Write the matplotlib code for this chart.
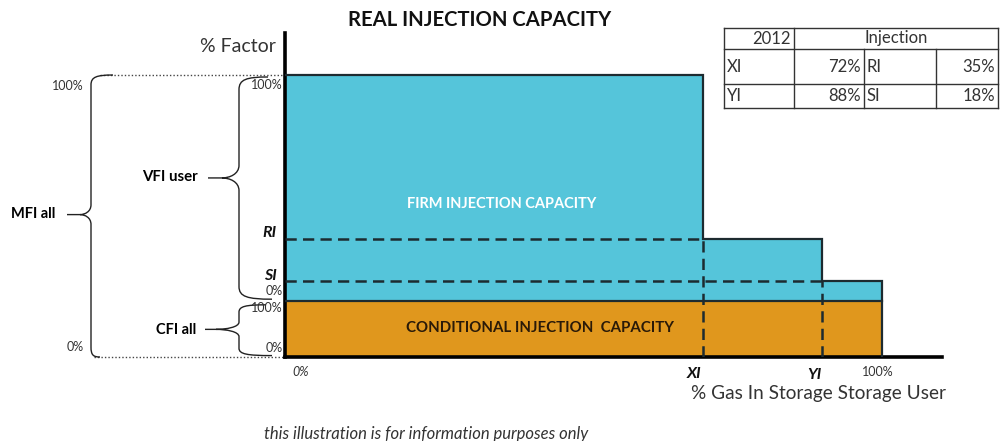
import numpy as np
import matplotlib
matplotlib.use("Agg")
from matplotlib import pyplot as plt
from matplotlib import transforms
from matplotlib.path import Path
from matplotlib.patches import PathPatch

plt.rcParams['font.family'] = ['Lato', 'DejaVu Sans']

# ---- data ----
gas_edges = [0, 70, 90, 100]        # % gas in storage: 0, XI, YI, 100%
firm_top = [100, 42, 27]            # top of firm capacity on each step (100%, RI, SI)
cfi_top = 20                        # conditional capacity band 0..20
xi, yi = gas_edges[1], gas_edges[2]
ri, si = firm_top[1], firm_top[2]

table_year = "2012"
table_head = "Injection"
table_rows = [["XI", "72%", "RI", "35%"],
              ["YI", "88%", "SI", "18%"]]

blue = '#55c5da'
orange = '#e0971d'
edge = '#1d2b30'

W, H = 1003, 441
fig = plt.figure(figsize=(W / 100, H / 100), dpi=100)
# pixel coords of the picture (y down) -> figure
pix = transforms.Affine2D().scale(1 / W, -1 / H).translate(0, 1) + fig.transFigure

ax = fig.add_axes([285 / W, (H - 357) / H, (942 - 285) / W, (357 - 33) / H])
ax.set_xlim(0, 110.05)
ax.set_ylim(0, 114.9)
for s in ['top', 'right']:
    ax.spines[s].set_visible(False)
for s in ['left', 'bottom']:
    ax.spines[s].set_linewidth(2.6)
    ax.spines[s].set_color('black')
ax.set_xticks([])
ax.set_yticks([])

# bars
widths = np.diff(gas_edges)
ax.bar(gas_edges[:-1], np.array(firm_top) - cfi_top, bottom=cfi_top, width=widths,
       align='edge', color=blue, linewidth=0, zorder=1)
ax.bar(0, cfi_top, width=gas_edges[-1], align='edge', color=orange, linewidth=0, zorder=1)

# outline of the stepped shape
ox = [0, xi, xi, yi, yi, gas_edges[-1], gas_edges[-1]]
oy = [firm_top[0], firm_top[0], ri, ri, si, si, 0]
ax.plot(ox, oy, color=edge, lw=1.6, zorder=3, solid_joinstyle='miter')
ax.plot([0, gas_edges[-1]], [cfi_top, cfi_top], color=edge, lw=1.6, zorder=3)

dash = (0, (4.5, 2.5))
ax.hlines(ri, 0, xi, colors=edge, linestyles=dash, lw=1.8, zorder=3)
ax.hlines(si, 0, yi, colors=edge, linestyles=dash, lw=1.8, zorder=3)
ax.vlines(xi, 0, ri, colors=edge, linestyles=dash, lw=1.8, zorder=3)
ax.vlines(yi, 0, si, colors=edge, linestyles=dash, lw=1.8, zorder=3)

ax.text(36.3, 54.3, "FIRM INJECTION CAPACITY", color='white', fontsize=10.5,
        fontweight='bold', ha='center', va='center', zorder=4)
ax.text(42.7, 10.3, "CONDITIONAL INJECTION  CAPACITY", color='#2a1a08', fontsize=10.8,
        fontweight='bold', ha='center', va='center', zorder=4)

# axis texts
fig.text(480, 20, "REAL INJECTION CAPACITY", transform=pix, fontsize=14.6,
         fontweight='bold', ha='center', va='center', color='#111')
fig.text(276, 46, "% Factor", transform=pix, fontsize=14, ha='right', va='center', color='#333')
fig.text(946, 394, "% Gas In Storage Storage User", transform=pix, fontsize=13.7,
         ha='right', va='center', color='#333')
fig.text(426, 434, "this illustration is for information purposes only", transform=pix,
         fontsize=12, style='italic', ha='center', va='center', color='#333')

xlab = transforms.blended_transform_factory(ax.transData, pix)
ax.text(1.2, 372, "0%", transform=xlab, fontsize=9, style='italic', ha='left', va='center', color='#333')
ax.text(xi - 0.2, 374, "XI", transform=xlab, fontsize=11.5, style='italic', fontweight='bold',
        ha='right', va='center', color='#111')
ax.text(yi - 0.2, 375, "YI", transform=xlab, fontsize=11.5, style='italic', fontweight='bold',
        ha='right', va='center', color='#111')
ax.text(gas_edges[-1] - 3.4, 372, "100%", transform=xlab, fontsize=9, ha='left', va='center', color='#333')

ylab = transforms.blended_transform_factory(pix, ax.transData)
ax.text(277, ri - 0.6, "RI", transform=ylab, fontsize=11.5, style='italic', fontweight='bold',
        ha='right', va='bottom', color='#111', clip_on=False)
ax.text(277, si - 0.6, "SI", transform=ylab, fontsize=11.5, style='italic', fontweight='bold',
        ha='right', va='bottom', color='#111', clip_on=False)


def brace(xs, xt, xtail, xe_top, xe_bot, y0, y1, ym, d):
    verts = [(xe_top, y1),
             (xs + (xe_top - xs) * 0.25, y1), (xs, y1 - d * 0.2), (xs, y1 - d),
             (xs, ym + d),
             (xs, ym + d * 0.3), (xt + (xs - xt) * 0.45, ym), (xt, ym),
             (xt + (xs - xt) * 0.45, ym), (xs, ym - d * 0.3), (xs, ym - d),
             (xs, y0 + d),
             (xs, y0 + d * 0.2), (xs + (xe_bot - xs) * 0.25, y0), (xe_bot, y0),
             (xt, ym), (xtail, ym)]
    codes = [Path.MOVETO] + [Path.CURVE4] * 3 + [Path.LINETO] + [Path.CURVE4] * 6 + \
            [Path.LINETO] + [Path.CURVE4] * 3 + [Path.MOVETO, Path.LINETO]
    fig.add_artist(PathPatch(Path(verts, codes), transform=ylab, fill=False,
                             edgecolor='#222', lw=1.0))


# MFI all (0..100), VFI user (cfi_top..100), CFI all (0..cfi_top)
brace(91, 80, 67, 113, 100, 0, firm_top[0], 50.5, 3.5)
brace(239, 222, 208, 268, 272, cfi_top + 0.5, firm_top[0] - 0.7, 63.5, 4.5)
brace(239, 216, 205, 266, 272, 0.5, cfi_top - 1.5, 9.8, 2.6)

ax.plot([-31, 0], [firm_top[0], firm_top[0]], ls=(0, (1, 1.5)), color='#444', lw=1, clip_on=False)
ax.plot([-32, 0], [0, 0], ls=(0, (1, 1.5)), color='#444', lw=1, clip_on=False)

fig.text(33, 214, "MFI all", transform=pix, fontsize=10.5, fontweight='bold', ha='center', va='center')
fig.text(170, 177, "VFI user", transform=pix, fontsize=10.8, fontweight='bold', ha='center', va='center')
fig.text(176, 330, "CFI all", transform=pix, fontsize=10.5, fontweight='bold', ha='center', va='center')

pct = dict(transform=pix, fontsize=9, ha='right', va='center', color='#333')
fig.text(84, 86, "100%", **pct)
fig.text(84, 347, "0%", **pct)
fig.text(283, 85, "100%", **pct)
fig.text(283, 291, "0%", **pct)
fig.text(283, 308, "100%", **pct)
fig.text(283, 348, "0%", **pct)

# table
col_x = [724, 794, 864, 936, 998]
row_y = [28, 49, 84, 108]
lk = dict(transform=pix, color='#333', lw=1.0)
for y in row_y:
    fig.add_artist(plt.Line2D([col_x[0], col_x[-1]], [y, y], **lk))
fig.add_artist(plt.Line2D([col_x[0], col_x[0]], [row_y[0], row_y[-1]], **lk))
fig.add_artist(plt.Line2D([col_x[-1], col_x[-1]], [row_y[0], row_y[-1]], **lk))
fig.add_artist(plt.Line2D([col_x[1], col_x[1]], [row_y[0], row_y[-1]], **lk))
for cx in col_x[2:4]:
    fig.add_artist(plt.Line2D([cx, cx], [row_y[1], row_y[-1]], **lk))

tk = dict(transform=pix, fontsize=12, va='center', color='#333')
fig.text(col_x[1] - 3, (row_y[0] + row_y[1]) / 2, table_year, ha='right', **tk)
fig.text((col_x[1] + col_x[-1]) / 2, (row_y[0] + row_y[1]) / 2, table_head, ha='center', **tk)
for r, row in enumerate(table_rows):
    yc = (row_y[r + 1] + row_y[r + 2]) / 2
    fig.text(col_x[0] + 3, yc, row[0], ha='left', **tk)
    fig.text(col_x[2] - 3, yc, row[1], ha='right', **tk)
    fig.text(col_x[2] + 3, yc, row[2], ha='left', **tk)
    fig.text(col_x[4] - 3, yc, row[3], ha='right', **tk)

fig.savefig('out.png', dpi=100)
